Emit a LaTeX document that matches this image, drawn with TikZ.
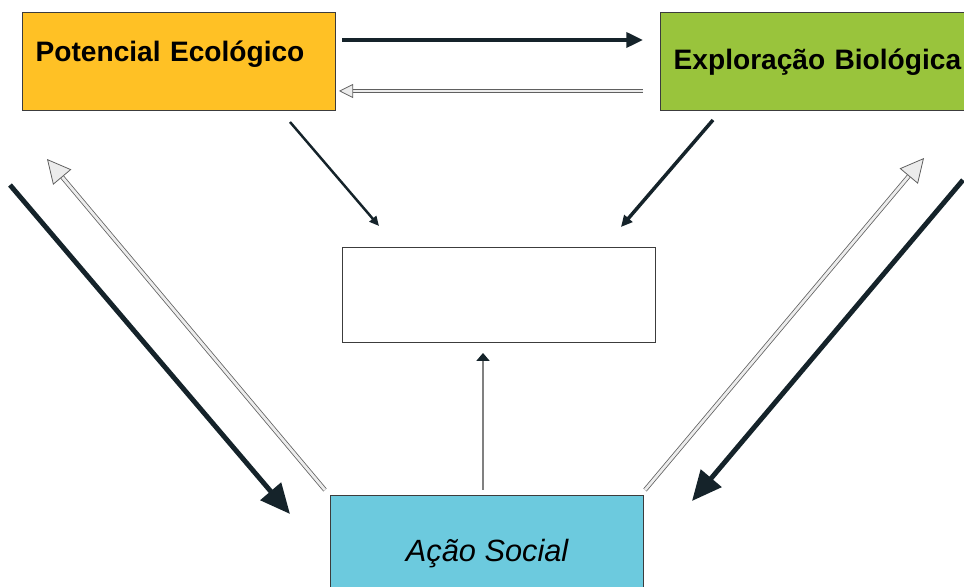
\documentclass[tikz,border=0pt]{standalone}
\usepackage{fontspec}
\setmainfont{Liberation Sans}
\usetikzlibrary{arrows.meta}
\definecolor{potfill}{HTML}{FFC125}
\definecolor{explfill}{HTML}{99C43C}
\definecolor{acaofill}{HTML}{6CCADE}
\definecolor{boxline}{HTML}{3C3C3C}
\definecolor{arrowdark}{HTML}{15232A}
\tikzset{
  box/.style={draw=boxline, line width=0.8pt, anchor=north west, inner sep=0pt, minimum height=1.96cm},
  title/.style={font=\fontsize{16}{19}\selectfont\bfseries},
  darkarrow/.style={draw=arrowdark, line width=#1},
  hollow/.style={draw=gray!75!black, line width=0.45pt, double=gray!15, double distance=1.6pt},
}
\begin{document}
\begin{tikzpicture}[x=0.02cm, y=-0.02cm]
\useasboundingbox (0,0) rectangle (964,587);
% caixas
\node[box, fill=potfill, title, minimum width=6.26cm, text width=5.74cm, inner xsep=0.26cm, align=left, text depth=12pt] (pot) at (22,12) {Potencial Ecológico};
\node[box, fill=explfill, title, minimum width=6.4cm, text width=5.88cm, inner xsep=0.26cm, align=left] (expl) at (660,12) {Exploração Biológica};
\node[box, fill=white, minimum width=6.26cm, minimum height=1.9cm] (mid) at (342,247) {};
\node[box, fill=acaofill, minimum width=6.26cm, minimum height=2cm, text height=21.5pt, font=\fontsize{17.5}{21}\selectfont\itshape] (acao) at (330,495) {Ação Social};
% pontas das setas
\coordinate (t1) at (342,40);  \coordinate (t2) at (643,40);
\coordinate (r1) at (643,91);  \coordinate (r2) at (339,91);
\coordinate (p1) at (290,122); \coordinate (p2) at (379,226);
\coordinate (e1) at (713,120); \coordinate (e2) at (621,227);
\coordinate (l1) at (10,185);  \coordinate (l2) at (290,514);
\coordinate (l3) at (325,490); \coordinate (l4) at (47,159);
\coordinate (d1) at (963,180); \coordinate (d2) at (692,501);
\coordinate (d3) at (645,490); \coordinate (d4) at (924,158);
\coordinate (c1) at (483,490); \coordinate (c2) at (483,353);
% setas
\draw[darkarrow=2.2pt, -{Triangle[length=9.5pt, width=8.5pt]}] (t1) -- (t2);
\draw[hollow, -{Triangle[fill=gray!15, length=8pt, width=8pt]}] (r1) -- (r2);
\draw[darkarrow=1.4pt, -{Triangle[length=5.5pt, width=5pt]}] (p1) -- (p2);
\draw[darkarrow=2pt, -{Triangle[length=6.5pt, width=6pt]}] (e1) -- (e2);
\draw[darkarrow=2.8pt, -{Triangle[length=17pt, width=15pt]}] (l1) -- (l2);
\draw[hollow, -{Triangle[fill=gray!15, length=13.5pt, width=13.5pt]}] (l3) -- (l4);
\draw[darkarrow=2.8pt, -{Triangle[length=17pt, width=15pt]}] (d1) -- (d2);
\draw[hollow, -{Triangle[fill=gray!15, length=13.5pt, width=13.5pt]}] (d3) -- (d4);
\draw[gray, line width=0.6pt, -{Triangle[color=arrowdark, length=4.5pt, width=7.5pt]}] (c1) -- (c2);
\end{tikzpicture}
\end{document}
